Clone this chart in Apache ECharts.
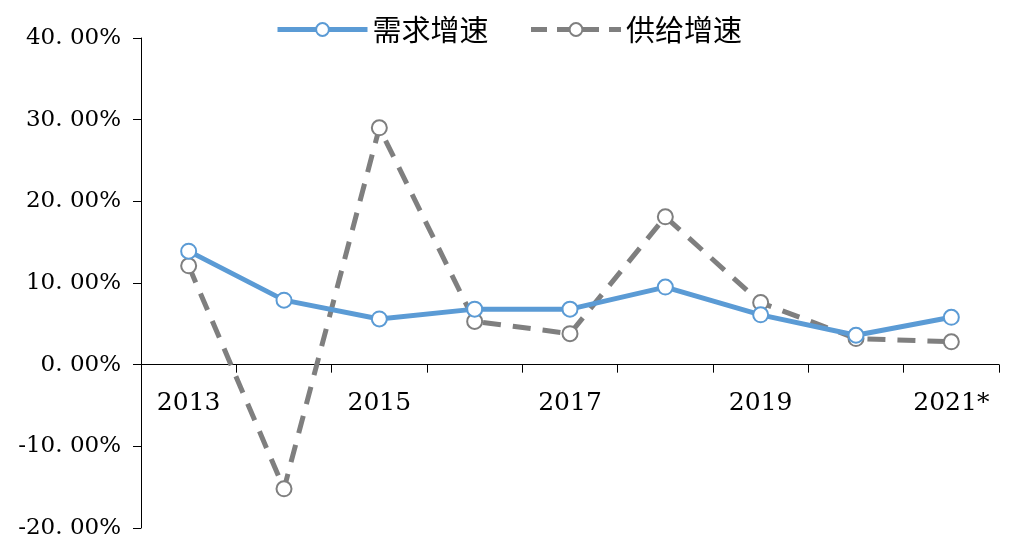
<!DOCTYPE html>
<html><head><meta charset="utf-8">
<script src="https://cdn.jsdelivr.net/npm/echarts@6/dist/echarts.min.js"></script>
<style>html,body{margin:0;background:#fff}#c{width:1031px;height:557px}</style>
</head><body><div id="c"></div>
<script>
const categories=['2013','2014','2015','2016','2017','2018','2019','2020','2021*'];
const demand=[13.9,7.9,5.6,6.8,6.8,9.5,6.1,3.6,5.8];
const supply=[12.1,-15.2,29.0,5.3,3.8,18.1,7.6,3.2,2.8];
const yTicks=[-20,-10,0,10,20,30,40];
const font='"DejaVu Serif", serif';
const chart=echarts.init(document.getElementById('c'));
chart.setOption({
  animation:false,
  legend:{top:10,left:270,itemWidth:90,itemHeight:16,itemGap:40,
    textStyle:{fontSize:29,fontFamily:'"Noto Sans CJK SC"',color:'#000'},
    data:[{name:'需求增速',lineStyle:{width:5}},{name:'供给增速',lineStyle:{width:5,type:[16,10]}}]},
  grid:{left:141,right:32,top:38,bottom:29,containLabel:false,outerBoundsMode:'none'},
  xAxis:[{type:'category',data:categories,boundaryGap:true,
    axisLine:{onZero:true,lineStyle:{color:'#000',width:1}},
    axisTick:{show:true,length:8,lineStyle:{color:'#000'}},
    axisLabel:{show:false}},
   {type:'category',data:categories,boundaryGap:true,position:'bottom',offset:-163,
    axisLine:{show:false},axisTick:{show:false},
    axisLabel:{margin:26,fontSize:25,fontFamily:font,color:'#000'}}],
  yAxis:{type:'value',min:yTicks[0],max:yTicks[yTicks.length-1],interval:10,
    axisLine:{show:true,lineStyle:{color:'#000'}},
    axisTick:{show:true,length:8,lineStyle:{color:'#000'}},
    splitLine:{show:false},
    axisLabel:{margin:20,fontSize:23,fontFamily:font,color:'#000',
      formatter:v=>v.toFixed(2).replace('.','. ')+'%'}},
  series:[
    {name:'需求增速',type:'line',data:demand,symbol:'circle',symbolSize:15,
      lineStyle:{color:'#5b9bd5',width:5},
      itemStyle:{color:'#fff',borderColor:'#5b9bd5',borderWidth:2}},
    {name:'供给增速',type:'line',data:supply,symbol:'circle',symbolSize:15,z:1,
      lineStyle:{color:'#7f7f7f',width:5,type:[18,12]},
      itemStyle:{color:'#fff',borderColor:'#7f7f7f',borderWidth:2}}
  ]
});
</script></body></html>
